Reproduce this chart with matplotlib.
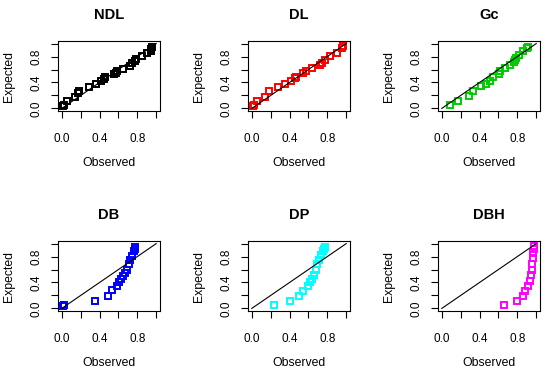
import matplotlib
matplotlib.use("Agg")
import matplotlib.pyplot as plt

plt.rcParams['font.family'] = ['Liberation Sans', 'DejaVu Sans']

# panel names and colours
names = ["NDL", "DL", "Gc", "DB", "DP", "DBH"]
colors = ["#000000", "#FF0000", "#00CD00", "#0000FF", "#00FFFF", "#FF00FF"]

# observed / expected values
ndl_obs = [0.01, 0.02, 0.06, 0.14, 0.17, 0.18, 0.29, 0.36, 0.41, 0.45, 0.46, 0.55,
           0.57, 0.58, 0.65, 0.72, 0.74, 0.77, 0.79, 0.85, 0.90, 0.94, 0.95, 0.96]
ndl_exp = [0.04, 0.05, 0.11, 0.18, 0.23, 0.27, 0.33, 0.37, 0.42, 0.46, 0.48, 0.53,
           0.55, 0.57, 0.61, 0.66, 0.70, 0.73, 0.76, 0.81, 0.85, 0.89, 0.92, 0.95]

dl_obs = [0.01, 0.02, 0.05, 0.14, 0.18, 0.28, 0.35, 0.41, 0.46, 0.47, 0.54, 0.57,
          0.64, 0.72, 0.74, 0.77, 0.83, 0.90, 0.95, 0.97]
dl_exp = [0.04, 0.05, 0.12, 0.18, 0.27, 0.33, 0.37, 0.43, 0.47, 0.49, 0.54, 0.58,
          0.62, 0.67, 0.70, 0.74, 0.81, 0.86, 0.93, 0.96]

gc_obs = [0.09, 0.17, 0.29, 0.33, 0.42, 0.47, 0.51, 0.54, 0.61, 0.62, 0.67, 0.72,
          0.76, 0.78, 0.79, 0.82, 0.86, 0.90, 0.91]
gc_exp = [0.05, 0.12, 0.19, 0.27, 0.34, 0.38, 0.43, 0.49, 0.53, 0.57, 0.62, 0.67,
          0.71, 0.74, 0.77, 0.83, 0.88, 0.93, 0.95]

db_obs = [0.01, 0.02, 0.35, 0.49, 0.53, 0.58, 0.61, 0.63, 0.65, 0.67, 0.69, 0.71,
          0.72, 0.74, 0.76, 0.77, 0.78]
db_exp = [0.04, 0.05, 0.12, 0.19, 0.28, 0.35, 0.40, 0.45, 0.50, 0.55, 0.60, 0.68,
          0.74, 0.81, 0.88, 0.92, 0.95]

dp_obs = [0.23, 0.40, 0.50, 0.54, 0.59, 0.62, 0.64, 0.66, 0.68, 0.69, 0.71, 0.73,
          0.75, 0.76, 0.77]
dp_exp = [0.05, 0.12, 0.19, 0.27, 0.35, 0.40, 0.46, 0.52, 0.60, 0.68, 0.75, 0.82,
          0.88, 0.92, 0.95]

dbh_obs = [0.66, 0.80, 0.86, 0.88, 0.91, 0.93, 0.94, 0.95, 0.96, 0.965, 0.97, 0.975,
           0.98]
dbh_exp = [0.06, 0.12, 0.19, 0.27, 0.35, 0.43, 0.51, 0.59, 0.69, 0.78, 0.86, 0.92,
           0.96]

observed = [ndl_obs, dl_obs, gc_obs, db_obs, dp_obs, dbh_obs]
expected = [ndl_exp, dl_exp, gc_exp, db_exp, dp_exp, dbh_exp]

ref_line = [0, 1]
ticks = [0.0, 0.2, 0.4, 0.6, 0.8, 1.0]
ticklabels = ["0.0", "", "0.4", "", "0.8", ""]

W, H = 550, 376
fig = plt.figure(figsize=(W / 100, H / 100), dpi=100)

col_left = [58, 248, 438]
row_top = [41, 241]
bw, bh = 102, 70

for k in range(6):
    r, c = divmod(k, 3)
    left = col_left[c]
    top = row_top[r]
    ax = fig.add_axes([left / W, 1 - (top + bh) / H, bw / W, bh / H])
    ax.plot(observed[k], expected[k], linestyle='none', marker='s', ms=4.3,
            mfc='none', mec=colors[k], mew=1.4)
    ax.plot(ref_line, ref_line, color='black', lw=0.8)
    ax.set_xlim(-0.04, 1.04)
    ax.set_ylim(-0.04, 1.04)
    ax.set_xticks(ticks)
    ax.set_xticklabels(ticklabels)
    ax.set_yticks(ticks)
    ax.set_yticklabels(ticklabels, rotation=90, va='center')
    ax.tick_params(direction='out', length=5, width=0.8, labelsize=8.5)
    ax.tick_params(axis='x', pad=11)
    ax.tick_params(axis='y', pad=6)
    for s in ax.spines.values():
        s.set_linewidth(0.8)
    ax.set_xlabel("Observed", fontsize=8.8)
    ax.set_ylabel("Expected", fontsize=8.8)
    ax.xaxis.set_label_coords(0.5, -0.66)
    ax.yaxis.set_label_coords(-0.42, 0.5)
    ax.text(0.5, 1.37, names[k], transform=ax.transAxes, ha='center', va='center',
            fontsize=10.5, fontweight='bold')

fig.savefig("out.png", dpi=100)
